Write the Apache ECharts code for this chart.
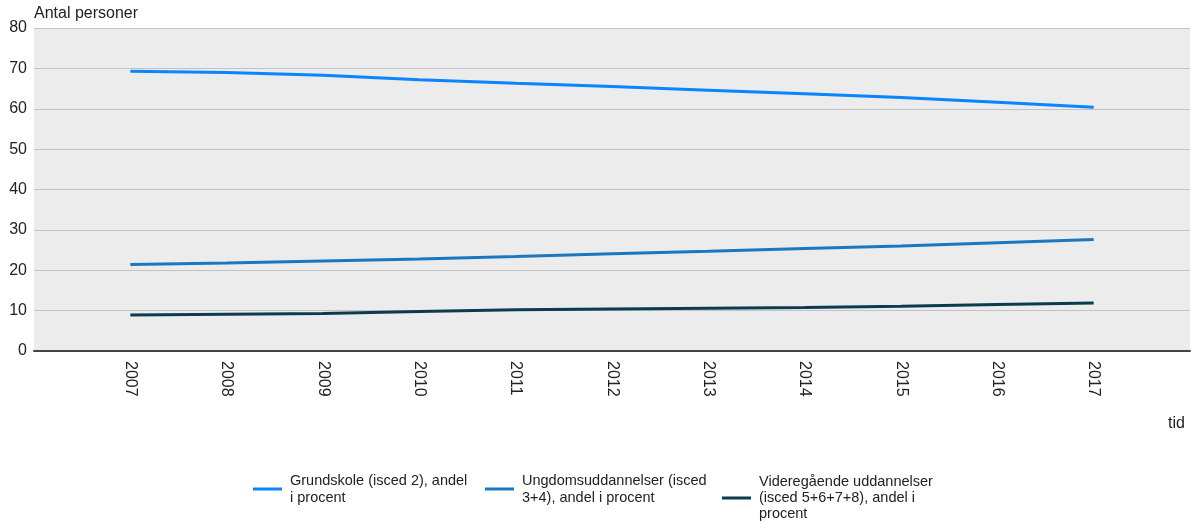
<!DOCTYPE html>
<html><head><meta charset="utf-8">
<script src="https://cdn.jsdelivr.net/npm/echarts@6/dist/echarts.min.js"></script>
<style>html,body{margin:0;padding:0;background:#fff}#c{width:1195px;height:523px}</style>
</head><body><div id="c"></div>
<script>
const years = [2007, 2008, 2009, 2010, 2011, 2012, 2013, 2014, 2015, 2016, 2017];
const seriesNames = [
  'Grundskole (isced 2), andel\ni procent',
  'Ungdomsuddannelser (isced\n3+4), andel i procent',
  'Videregående uddannelser\n(isced 5+6+7+8), andel i\nprocent'
];
const grundskole = [69.3, 69.0, 68.3, 67.2, 66.3, 65.5, 64.6, 63.7, 62.8, 61.6, 60.4];
const ungdom = [21.4, 21.8, 22.3, 22.8, 23.4, 24.1, 24.7, 25.4, 26.0, 26.8, 27.6];
const videre = [8.9, 9.1, 9.3, 9.8, 10.2, 10.4, 10.6, 10.8, 11.1, 11.5, 11.9];
const yTicks = [0, 10, 20, 30, 40, 50, 60, 70, 80];
const colors = ['#0a84ff', '#1a78c2', '#0b3c4d'];
const font = 'Liberation Sans, Arial, sans-serif';

const values = [grundskole, ungdom, videre];
const chart = echarts.init(document.getElementById('c'));
const mkLegend = (i, left, top, lh) => ({
  data: [seriesNames[i]], left: left, top: top, orient: 'horizontal', padding: 0,
  itemWidth: 29, itemHeight: 3, itemGap: 0, icon: 'rect',
  textStyle: {fontFamily: font, fontSize: 14.5, color: '#222', lineHeight: lh, padding: [0,0,0,3]}
});
chart.setOption({
  animation: false,
  backgroundColor: '#fff',
  color: colors,
  grid: {left: 34, right: 5, top: 28, bottom: 172, show: true, backgroundColor: '#ececec', borderWidth: 0},
  legend: [mkLegend(0, 253, 472, 17), mkLegend(1, 485, 472, 17), mkLegend(2, 722, 474, 16)],
  graphic: [
    {type: 'text', left: 1168, top: 416, style: {text: 'tid', font: '16px ' + font, fill: '#222'}}
  ],
  xAxis: {
    type: 'value', min: 2006, max: 2018, interval: 1,
    axisLine: {show: true, lineStyle: {color: '#444', width: 2}},
    axisTick: {show: false},
    splitLine: {show: false},
    axisLabel: {
      rotate: -90, margin: 10, fontFamily: font, fontSize: 16, color: '#222',
      formatter: v => years.includes(v) ? String(v) : ''
    }
  },
  yAxis: {
    type: 'value', min: yTicks[0], max: yTicks[yTicks.length - 1], interval: 10,
    name: 'Antal personer', nameLocation: 'end', nameGap: 6,
    nameTextStyle: {fontFamily: font, fontSize: 16, color: '#222', align: 'left', padding: [0,0,0,0]},
    axisLine: {show: false}, axisTick: {show: false},
    splitLine: {lineStyle: {color: '#c2c2c2', width: 1}},
    axisLabel: {fontFamily: font, fontSize: 16, color: '#222', margin: 7}
  },
  series: values.map((v, i) => ({
    name: seriesNames[i], type: 'line', showSymbol: false, symbol: 'none',
    lineStyle: {width: 3, color: colors[i]},
    data: years.map((y, j) => [y, v[j]])
  }))
});
</script></body></html>
